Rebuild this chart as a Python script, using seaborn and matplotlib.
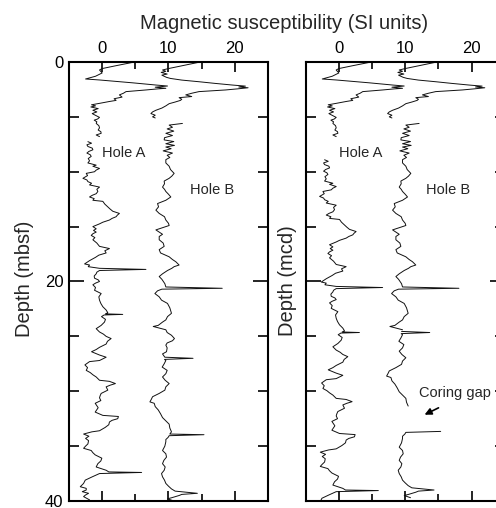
import numpy as np
import pandas as pd
import seaborn as sns
import matplotlib.pyplot as plt
from matplotlib.ticker import MultipleLocator

# Hole A: depth (mbsf) and magnetic susceptibility (SI units)
hole_a_depth = [0.0, 0.35, 0.6, 0.73, 1.0, 1.3, 1.55, 1.64, 1.9, 2.1, 2.19, 2.3, 2.4, 2.45, 2.55, 2.7,
                2.85, 3.0, 3.2, 3.35, 3.5, 3.6, 3.77, 3.9, 4.0, 4.1, 4.25, 4.4, 4.55, 4.7, 4.8, 5.05,
                5.2, 5.3, 5.45, 5.6, 5.8, 6.0, 6.2, 6.35, 6.5, 6.65, 6.8,
                7.26, 7.4, 7.55, 7.7, 7.85, 8.0, 8.15, 8.3, 8.45, 8.6, 8.8, 9.0, 9.2, 9.4, 9.5, 9.7,
                9.85, 10.0, 10.15, 10.35, 10.6, 10.75, 10.9, 11.05, 11.2, 11.4, 11.6, 11.8, 12.0, 12.15,
                12.3, 12.45, 12.6, 12.7, 12.95, 13.2, 13.4, 13.6, 13.8, 13.95, 14.1, 14.25, 14.4, 14.6,
                14.75, 15.0, 15.2, 15.35, 15.5, 15.65, 15.8, 16.0, 16.2, 16.5, 16.8, 17.0, 17.2, 17.4,
                17.6, 17.8, 18.1, 18.4, 18.5, 18.65, 18.8, 18.9, 19.0, 19.15, 19.3, 19.5, 19.7, 19.85,
                20.0, 20.15, 20.3, 20.55, 20.8, 21.1, 21.4, 21.7, 22.0, 22.3, 22.6, 22.85, 22.95, 23.0,
                23.05, 23.2, 23.45, 23.7, 24.0, 24.3, 24.6, 24.8, 25.0, 25.2, 25.45, 25.7, 26.0, 26.2,
                26.4, 26.7, 26.9, 27.2, 27.3, 27.6, 27.85, 28.1, 28.3, 28.5, 28.7, 29.0, 29.1, 29.3,
                29.45, 29.6, 29.9, 30.2, 30.4, 30.6, 30.85, 31.1, 31.5, 31.9, 32.2, 32.3, 32.5, 32.65,
                32.8, 33.05, 33.3, 33.6, 33.7, 33.9, 34.1, 34.3, 34.5, 34.8, 35.0, 35.2, 35.4, 35.6,
                35.8, 36.0, 36.1, 36.35, 36.6, 36.9, 37.2, 37.35, 37.4, 37.5, 37.8, 38.1, 38.4, 38.7,
                38.85, 39.0, 39.15, 39.3, 39.45, 39.6, 39.9, 40.0]
hole_a_value = [4.9, 2.0, 0.0, -0.4, 0.0, -1.0, -2.5, -0.4, 4.6, 8.1, 9.85, 8.0, 9.6, 8.4, 6.6, 3.6,
                3.2, 2.6, 3.0, 1.8, 2.1, 1.1, -0.4, -1.6, -1.0, -1.7, -0.6, -1.4, -0.8, -1.5, -1.2, -0.4,
                -0.7, -1.2, -0.8, -0.9, -0.5, -0.4, -0.6, -0.2, -0.15, -0.9, -0.4,
                -2.15, -1.6, -2.3, -2.15, -1.5, -1.4, -2.0, -2.3, -1.8, -1.65, -2.1, -1.9, -2.15, -0.9, -1.4, -0.4,
                -0.9, -1.15, -2.4, -2.2, -2.9, -2.3, -2.15, -1.6, -1.9, -0.4, -0.8, -0.65, -0.9, -1.5,
                -1.9, -1.2, -1.4, 0.1, 0.4, 0.85, 1.2, 1.6, 2.6, 2.3, 2.1, 1.5, 1.1, 0.1,
                -0.4, -1.4, -0.9, -1.3, -0.9, -1.4, -1.65, -1.1, -1.4, -0.8, -0.4, 1.1, 0.4, 0.6,
                -0.5, -1.0, -1.9, -2.65, -1.9, -2.1, -0.4, 6.6, -0.4, -0.8, -0.9, -1.2, -1.15, -0.6,
                -0.4, -1.0, -1.4, -1.0, -1.15, -0.15, -0.5, -0.4, -0.2, 0.1, 0.6, 0.85, 0.5, 3.1,
                0.3, -0.1, 0.5, 0.35, -0.15, -0.9, -0.4, 0.2, 0.6, 1.35, 0.8, 0.6, -0.4, -0.9,
                -1.6, -0.4, 0.6, -0.4, -1.9, -2.6, -2.2, -2.4, -1.8, -1.4, -0.9, -0.4, 1.1, 2.0,
                1.2, 0.6, 0.85, -0.15, -0.3, -0.4, -0.2, -1.05, -0.6, -1.05, 0.1, 2.45, 2.35, 1.5,
                1.1, 1.0, 0.45, -0.4, -1.55, -2.8, -2.0, -2.5, -2.05, -2.15, -2.5, -2.8, -1.65, -1.4,
                -1.05, -0.4, -0.05, -0.2, -0.65, -0.9, 0.6, 1.0, 5.95, -0.4, -1.5, -2.55, -2.8, -3.3,
                -2.4, -2.4, -3.0, -2.05, -2.5, -2.8, -1.9, -2.0]

# Hole B: depth (mbsf) and magnetic susceptibility (SI units)
hole_b_depth = [0.0, 0.35, 0.6, 0.73, 0.85, 0.95, 1.1, 1.2, 1.4, 1.5, 1.65, 1.8, 1.95, 2.1, 2.2, 2.28,
                2.35, 2.45, 2.55, 2.7, 2.85, 3.0, 3.15, 3.25, 3.4, 3.5, 3.65, 3.8, 4.0, 4.2, 4.4, 4.55,
                4.7, 4.85, 5.0, 5.1,
                5.6, 5.75, 5.95, 6.1, 6.3, 6.5, 6.7, 6.9, 7.1, 7.25, 7.45, 7.6, 7.75, 7.9, 8.1, 8.3,
                8.5, 8.7, 8.9, 9.2, 9.5, 9.8, 10.15, 10.4, 10.6, 10.85, 11.1, 11.4, 11.6, 11.8, 12.05,
                12.3, 12.6, 12.9, 13.2, 13.5, 13.8, 14.1, 14.4, 14.7, 14.9, 15.3, 15.5, 15.7, 15.9,
                16.2, 16.5, 16.8, 17.1, 17.4, 17.75, 18.0, 18.2, 18.5, 18.65, 18.8, 19.0, 19.3, 19.55,
                19.8, 20.2, 20.5, 20.62, 20.7, 20.85, 21.1, 21.4, 21.7, 22.0, 22.4, 22.9, 23.2, 23.5,
                23.7, 24.0, 24.1, 24.4, 24.65, 24.9, 25.2, 25.4, 25.6, 25.8, 26.05, 26.4, 26.6, 26.9,
                27.0, 27.1, 27.2, 27.5, 27.8, 28.1, 28.4, 28.7, 29.0, 29.3, 29.6, 29.9, 30.2, 30.5,
                30.75, 30.97, 31.1, 31.4, 31.7, 32.05, 32.4, 32.7, 33.0, 33.35, 33.7, 33.9, 33.96, 34.05,
                34.2, 34.4, 34.6, 35.0, 35.4, 35.7, 36.0, 36.3, 36.6, 36.9, 37.2, 37.5, 37.8, 38.1,
                38.4, 38.65, 38.9, 39.1, 39.3, 39.4, 39.5, 39.7, 39.8, 40.0]
hole_b_value = [4.8, 2.0, 0.0, -0.9, -0.4, -1.1, -0.2, -1.0, -0.3, 0.3, 2.0, 4.6, 7.0, 9.6, 11.6, 10.6,
                12.0, 10.4, 8.6, 4.6, 3.5, 2.6, 3.5, 1.6, 2.0, 1.8, 1.0, 0.1, -0.4, -1.0, -1.9, -2.4,
                -2.65, -2.0, -2.4, -2.0,
                2.1, 0.1, 0.6, -0.2, 0.8, -0.4, 0.6, -0.6, -0.65, 0.8, -0.4, 0.9, -0.4, 0.4, -0.8, 0.6,
                -0.2, 0.2, -0.4, -0.4, 0.1, 0.3, 0.85, 0.5, 0.1, -0.65, -0.6, -0.9, -0.6, -0.4, 0.0,
                0.35, -0.4, -1.65, -1.5, -1.9, -1.4, -0.6, -0.4, 0.0, 0.1, -1.9, -1.4, -0.9, -1.4,
                -1.4, -0.8, -0.65, -1.4, -1.2, 0.1, 0.6, 1.1, 1.6, 0.85, 0.5, -0.15, -0.9, -1.4,
                -1.0, -0.55, -0.4, 8.1, -1.0, -1.65, -2.05, -1.4, -1.05, -0.15, 0.2, 0.45, -0.15, -0.4,
                -0.9, -1.55, -2.3, -0.4, -0.2, 0.45, 0.9, 0.6, -0.2, -0.4, -0.2, -0.3, -0.9, -0.55,
                3.7, -0.6, -0.4, -0.65, -0.95, -0.2, -0.4, -0.9, -0.5, 0.1, -0.4, -0.55, -1.4, -2.4,
                -2.6, -2.8, -2.15, -2.0, -1.55, -1.2, -0.9, -0.4, 0.1, 0.2, 0.45, 0.2, 5.35, 0.1,
                -0.05, -0.4, -0.4, -0.55, -0.9, -0.4, -0.3, -0.7, -0.9, -0.5, -0.65, -1.05, -0.9, -0.6,
                -0.4, 0.0, 0.45, 1.0, 4.35, 2.0, 1.6, 0.5, -0.15, 0.8]

# core breaks (mbsf) as drawn in the left panel
hole_a_breaks = [7.0]
hole_b_breaks = [5.3]

# composite depth sections: (top mbsf, bottom mbsf, shift to mcd)
hole_a_mcd = [(0.0, 7.0, 0.0), (7.0, 41.0, 1.65)]
hole_b_mcd = [(0.0, 5.3, 0.0), (5.3, 24.45, 0.0), (26.8, 33.8, -2.35), (33.93, 41.0, -0.3)]

hole_b_shift = 10  # Hole B is drawn offset along x


def mbsf_frame(depth, value, breaks, shift=0.0):
    df = pd.DataFrame({"depth": depth, "value": np.asarray(value) + shift})
    df["core"] = np.searchsorted(breaks, df["depth"], side="right")
    return df


def mcd_frame(df, sections):
    parts = []
    for i, (top, bot, off) in enumerate(sections):
        p = df[(df["depth"] >= top) & (df["depth"] < bot)].copy()
        p["depth"] = p["depth"] + off
        p["core"] = i
        parts.append(p)
    return pd.concat(parts, ignore_index=True)


a_mbsf = mbsf_frame(hole_a_depth, hole_a_value, hole_a_breaks)
b_mbsf = mbsf_frame(hole_b_depth, hole_b_value, hole_b_breaks, hole_b_shift)
a_mcd = mcd_frame(a_mbsf, hole_a_mcd)
b_mcd = mcd_frame(b_mbsf, hole_b_mcd)

sns.set_theme(style="ticks")
plt.rcParams["font.family"] = ["Liberation Sans", "DejaVu Sans"]

fig = plt.figure(figsize=(4.96, 5.08), dpi=100)
ax1 = fig.add_axes([0.1391, 0.0138, 0.4012, 0.8642])
ax2 = fig.add_axes([0.6163, 0.0138, 0.4012, 0.8642])

for ax, a, b in [(ax1, a_mbsf, b_mbsf), (ax2, a_mcd, b_mcd)]:
    for df in (a, b):
        sns.lineplot(data=df, x="value", y="depth", units="core", estimator=None,
                     sort=False, orient="y", color="#111111", lw=0.7, ax=ax)
    ax.set_xlim(-5, 25)
    ax.set_ylim(40, 0)
    ax.set_xlabel("")
    ax.set_ylabel("")
    ax.xaxis.set_major_locator(MultipleLocator(10))
    ax.xaxis.set_minor_locator(MultipleLocator(5))
    ax.yaxis.set_major_locator(MultipleLocator(20))
    ax.yaxis.set_minor_locator(MultipleLocator(5))
    ax.tick_params(axis="x", which="both", direction="in", top=True, bottom=True,
                   labeltop=True, labelbottom=False, labelsize=12, width=1.2, pad=4, colors="black")
    ax.tick_params(axis="x", which="major", length=7)
    ax.tick_params(axis="x", which="minor", length=5)
    ax.tick_params(axis="y", which="both", direction="in", left=True, right=True,
                   labelsize=12, width=1.2, pad=4, colors="black")
    ax.tick_params(axis="y", which="major", length=11)
    ax.tick_params(axis="y", which="minor", length=7)
    for s in ax.spines.values():
        s.set_linewidth(1.5)
        s.set_color("black")
    ax.text(0, 8.3, "Hole A", fontsize=10.5, ha="left", va="center")
    ax.text(13.2, 11.65, "Hole B", fontsize=10.5, ha="left", va="center")

ax2.tick_params(axis="y", labelleft=False)

ax2.text(12.1, 30.2, "Coring gap", fontsize=10.5, ha="left", va="center")
ax2.annotate("", xy=(12.55, 32.25), xytext=(15.4, 31.4),
             arrowprops=dict(arrowstyle="-|>", color="black", lw=1.2, mutation_scale=10))

fig.text(0.5736, 0.9423, "Magnetic susceptibility (SI units)", fontsize=14.5,
         ha="center", va="baseline")
fig.text(0.0504, 0.452, "Depth (mbsf)", fontsize=14.5, rotation=90, ha="center", va="center")
fig.text(0.5806, 0.447, "Depth (mcd)", fontsize=14.5, rotation=90, ha="center", va="center")

plt.savefig("out.png", dpi=100)
